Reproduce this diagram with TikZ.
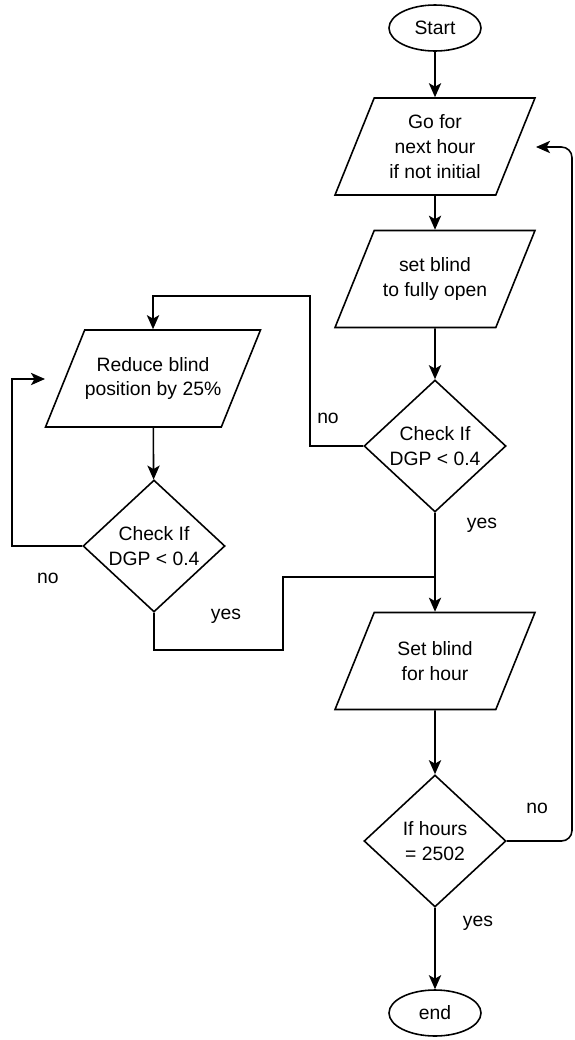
\documentclass[tikz,border=0pt]{standalone}
\usepackage{fontspec}
\setmainfont{Liberation Sans}
\usetikzlibrary{arrows.meta}
\usetikzlibrary{shapes}

\tikzset{
        terminal/.style={draw, ellipse, minimum width=1.84cm, minimum height=0.92cm, inner sep=0pt},
        io/.style={draw, trapezium, trapezium left angle=68, trapezium right angle=112, inner xsep=-0.3cm, inner ysep=0pt,
                execute at begin node={\begin{minipage}[c][1.94cm][c]{#1}\centering},
                execute at end node={\end{minipage}}},
        io/.default=3.032cm,
        decision/.style={draw, diamond, minimum width=2.84cm, minimum height=2.64cm, align=center, inner sep=0pt},
        flow/.style={line width=0.9pt, -{Stealth[length=8pt,width=7pt,inset=2pt]}}
}

\begin{document}
\begin{tikzpicture}[line width=0.9pt, font=\fontsize{11}{14.2}\selectfont]
        \useasboundingbox (0,0) rectangle (11.5,-20.8);

        \node[terminal] (start) at (8.7,-0.56) {Start};
        \node[io] (go_next) at (8.7,-2.93) {Go for\\next hour\\if not initial};
        \node[io] (set_open) at (8.7,-5.58) {set blind\\to fully open};
        \node[decision] (check_a) at (8.7,-8.92) {Check If\\DGP < 0.4};
        \node[io=3.332cm] (reduce) at (3.06,-7.57) {Reduce blind\\position by 25\%};
        \node[decision] (check_b) at (3.08,-10.92) {Check If\\DGP < 0.4};
        \node[io] (set_hour) at (8.7,-13.22) {Set blind\\for hour};
        \node[decision] (check_hours) at (8.7,-16.82) {If hours\\= 2502};
        \node[terminal] (stop) at (8.7,-20.26) {end};

        \coordinate (no_a) at (6.2,-5.92);
        \coordinate (loop_b) at (0.24,-7.58);
        \coordinate (loop_in) at (0.9,-7.58);
        \coordinate (yes_b) at (5.66,-13.0);
        \coordinate (join) at (8.7,-11.54);
        \coordinate (back) at (11.44,-2.94);
        \coordinate (go_in) at (10.72,-2.94);

        \draw[flow] (start) -- (go_next);
        \draw[flow] (go_next) -- (set_open);
        \draw[flow] (set_open) -- (check_a);
        \draw[flow] (check_a.west) -| (no_a) -| (reduce.north);
        \draw[flow] (reduce) -- (check_b);
        \draw[flow] (check_b.west) -| (loop_b) -- (loop_in);
        \draw (check_b.south) |- (yes_b) |- (join);
        \draw[flow] (check_a.south) -- (set_hour.north);
        \draw[flow] (set_hour) -- (check_hours);
        \draw[flow, rounded corners=6pt] (check_hours.east) -| (back) -- (go_in);
        \draw[flow] (check_hours.south) -- (stop.north);

        \node (no_a_lbl) at (6.56,-8.36) {no};
        \node (yes_a_lbl) at (9.64,-10.5) {yes};
        \node (no_b_lbl) at (0.96,-11.56) {no};
        \node (yes_b_lbl) at (4.52,-12.32) {yes};
        \node (no_h_lbl) at (10.74,-16.16) {no};
        \node (yes_h_lbl) at (9.56,-18.46) {yes};
\end{tikzpicture}
\end{document}
